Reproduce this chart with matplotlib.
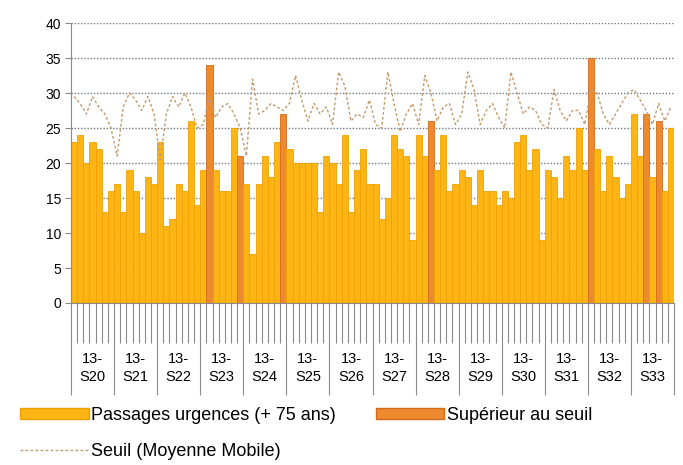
import numpy as np
import matplotlib
matplotlib.use("Agg")
import matplotlib.pyplot as plt
from matplotlib.patches import Patch
from matplotlib.lines import Line2D

# daily ER visits (75+), weeks 13-S20 .. 13-S33
passages = [23, 24, 20, 23, 22, 13, 16,
            17, 13, 19, 16, 10, 18, 17,
            23, 11, 12, 17, 16, 26, 14,
            19, 34, 19, 16, 16, 25, 21,
            17, 7, 17, 21, 18, 23, 27,
            22, 20, 20, 20, 20, 13, 21,
            20, 17, 24, 13, 19, 22, 17,
            17, 12, 15, 24, 22, 21, 9,
            24, 21, 26, 19, 24, 16, 17,
            19, 18, 14, 19, 16, 16, 14,
            16, 15, 23, 24, 19, 22, 9,
            19, 18, 15, 21, 19, 25, 19,
            35, 22, 16, 21, 18, 15, 17,
            27, 21, 27, 18, 26, 16, 25]

# bars flagged above threshold (index in passages)
above = [22, 27, 34, 58, 84, 93, 95]

# moving average threshold
seuil = [29.5, 28.5, 27, 29.5, 28, 27, 25,
         21, 28, 30, 29, 27.5, 29.5, 27,
         20.5, 27, 29.5, 28, 30, 28, 25,
         25.5, 29.5, 26.5, 28, 28.5, 27, 25,
         21, 32, 27, 27.5, 28.5, 28, 27.5,
         28.5, 32.5, 29, 26, 28.5, 27, 28,
         25.5, 33, 31, 26, 27, 26.5, 29,
         25.5, 25, 33, 28.5, 24.5, 27, 28.5,
         25.5, 32.5, 30, 26, 28, 28.5, 25.5,
         27, 33, 30.5, 25.5, 27.5, 28.5, 26.5,
         25, 33, 30, 27, 28, 27.5, 25.5,
         25, 30.5, 27.5, 26, 27.5, 27.5, 25.5,
         30.5, 30, 27, 25.5, 27, 28.5, 30,
         30.5, 29, 27.5, 25.5, 28.5, 26, 28]

weeks = ["13-\nS%d" % w for w in range(20, 34)]

plt.rcParams['font.family'] = ['Liberation Sans', 'DejaVu Sans']

fig = plt.figure(figsize=(6.83, 4.65), dpi=100)
ax = fig.add_axes([71 / 683, 1 - 303 / 465, 603 / 683, 280 / 465])

n = len(passages)
x = np.arange(n) + 0.5
colors = ['#EE8A2E' if i in above else '#FDB515' for i in range(n)]
edges = ['#D46A1C' if i in above else '#F0A200' for i in range(n)]
ax.bar(x, passages, width=1.0, color=colors, edgecolor=edges, linewidth=0.6, zorder=2)
ax.plot(x, seuil, color='#C49A6C', linestyle=(0, (2.0, 1.6)), linewidth=1.0, zorder=3)

ax.set_xlim(0, n)
ax.set_ylim(0, 40)
ax.set_yticks(range(0, 41, 5))
ax.yaxis.grid(True, linestyle=(0, (1, 1.3)), color='#6E7A86', linewidth=1.0, zorder=1)
ax.set_axisbelow(True)

for s in ['top', 'right']:
    ax.spines[s].set_visible(False)
ax.spines['left'].set_color('#8A8A8A')
ax.spines['bottom'].set_color('#8A8A8A')

# comb of day ticks and week separators below the axis
ax.set_xticks(np.arange(0, n + 1, 7))
ax.set_xticks(np.arange(0, n + 1, 1), minor=True)
ax.set_xticklabels([])
ax.tick_params(axis='x', which='major', length=66, width=0.8, color='#8A8A8A')
ax.tick_params(axis='x', which='minor', length=29, width=0.8, color='#8A8A8A')
ax.tick_params(axis='y', length=4, width=0.8, color='#8A8A8A', labelsize=10, pad=3)

for i, lab in enumerate(weeks):
    ax.text(7 * i + 3.5, -0.232, lab, transform=ax.get_xaxis_transform(),
            ha='center', va='center', fontsize=10.5, linespacing=1.3)

handles = [Patch(facecolor='#FDB515', edgecolor='#F0A200'),
           Line2D([0], [0], color='#C49A6C', linestyle=(0, (2.0, 1.6)), linewidth=1.0),
           Patch(facecolor='#EE8A2E', edgecolor='#D46A1C')]
labels = ['Passages urgences (+ 75 ans)', 'Seuil (Moyenne Mobile)', 'Supérieur au seuil']
fig.legend(handles, labels, ncol=2, loc='upper left', bbox_to_anchor=(20 / 683, 1 - 407 / 465),
           frameon=False, fontsize=13, handlelength=3.8, handleheight=0.55,
           handletextpad=0.15, columnspacing=2.2, labelspacing=1.05,
           borderpad=0, borderaxespad=0)

fig.savefig('out.png', dpi=100)
